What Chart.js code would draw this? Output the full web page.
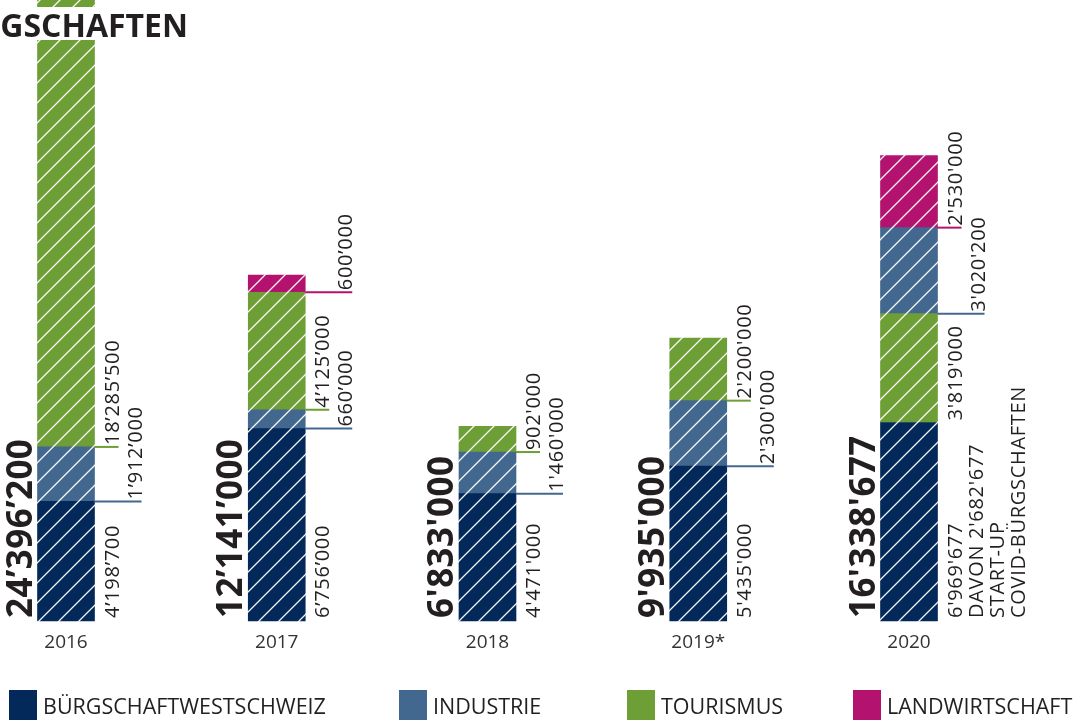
<!DOCTYPE html>
<html>
<head>
<meta charset="utf-8">
<script src="https://cdn.jsdelivr.net/npm/chart.js@4.4.1/dist/chart.umd.min.js"></script>
<style>
  html, body { margin: 0; padding: 0; background: #ffffff; }
  #wrap { width: 1073px; height: 720px; position: relative; }
  canvas { display: block; }
</style>
</head>
<body>
<div id="wrap"><canvas id="c" width="1073" height="720"></canvas></div>
<script>
// Bürgschaftsvolumen pro Jahr (CHF)
const years = ['2016', '2017', '2018', '2019*', '2020'];
const totals = [24396200, 12141000, 6833000, 9935000, 16338677];
const buergschaftWestschweiz = [4198700, 6756000, 4471000, 5435000, 6969677];
const industrie = [1912000, 660000, 1460000, 2300000, 3020200];
const tourismus = [18285500, 4125000, 902000, 2200000, 3819000];
const landwirtschaft = [null, 600000, null, null, 2530000];
const startUpCovid2020 = 2682677;
const seriesNames = ['BÜRGSCHAFTWESTSCHWEIZ', 'INDUSTRIE', 'TOURISMUS', 'LANDWIRTSCHAFT'];

// In 2020 the tourism block sits directly on top of the base block
const tourismusUnten = [false, false, false, false, true];

const COLORS = {
  navy: '#03295a',
  blue: '#43688f',
  green: '#6e9e36',
  magenta: '#b3136f'
};
const TEXT = '#231f20';
const FONT = '"Open Sans", "Liberation Sans", sans-serif';

const canvas = document.getElementById('c');
const ctx0 = canvas.getContext('2d');

// diagonal white hatching on a solid fill
function hatch(color) {
  const p = 20;
  const c = document.createElement('canvas');
  c.width = p; c.height = p;
  const g = c.getContext('2d');
  g.fillStyle = color;
  g.fillRect(0, 0, p, p);
  g.strokeStyle = 'rgba(255,255,255,0.95)';
  g.lineWidth = 1.3;
  g.beginPath();
  g.moveTo(-2, p + 2); g.lineTo(p + 2, -2);
  g.moveTo(-2, 2); g.lineTo(2, -2);
  g.moveTo(p - 2, p + 2); g.lineTo(p + 2, p - 2);
  g.stroke();
  return ctx0.createPattern(c, 'repeat');
}

const tourismusLow = tourismus.map((v, i) => (tourismusUnten[i] ? v : null));
const tourismusHigh = tourismus.map((v, i) => (tourismusUnten[i] ? null : v));

function ds(label, data, color) {
  return {
    label, data,
    backgroundColor: hatch(color),
    solidColor: color,
    borderWidth: 0,
    barThickness: 57,
    clip: false,
    stack: 'total'
  };
}

const datasets = [
  ds(seriesNames[0], buergschaftWestschweiz, COLORS.navy),
  ds(seriesNames[2], tourismusLow, COLORS.green),
  ds(seriesNames[1], industrie, COLORS.blue),
  ds(seriesNames[2], tourismusHigh, COLORS.green),
  ds(seriesNames[3], landwirtschaft, COLORS.magenta)
];

// label placement: column beside the bar for each segment (bottom to top)
const labelLayout = {
  columns: [[1, 2, 1], [1, 2, 1, 2], [1, 2, 1], [1, 2, 1], [1, 1, 2, 1]],
  leaders: [[false, true, true], [false, true, true, true], [false, true, true], [false, true, true], [false, false, true, true]]
};

const curly = ['2016', '2017'];
function fmt(v, year) {
  const sep = curly.includes(year) ? '\u2019' : "'";
  return String(v).replace(/\B(?=(\d{3})+(?!\d))/g, sep);
}

function drawRot(ctx, text, baseX, bottomY, font, color, spacing) {
  ctx.save();
  ctx.translate(baseX, bottomY);
  ctx.rotate(-Math.PI / 2);
  ctx.font = font;
  ctx.letterSpacing = spacing || '0px';
  ctx.fillStyle = color;
  ctx.textAlign = 'left';
  ctx.textBaseline = 'alphabetic';
  ctx.fillText(text, 0, 0);
  ctx.restore();
}

const valueLabels = {
  id: 'valueLabels',
  afterDatasetsDraw(chart) {
    const ctx = chart.ctx;
    years.forEach((year, i) => {
      const segs = [];
      chart.data.datasets.forEach((d, di) => {
        const v = d.data[i];
        if (v == null) return;
        segs.push({ v, el: chart.getDatasetMeta(di).data[i], color: d.solidColor });
      });
      segs.sort((a, b) => b.el.base - a.el.base);
      const first = segs[0].el;
      const half = first.width / 2;
      const left = first.x - half;
      const right = first.x + half;

      drawRot(ctx, fmt(totals[i], year), left - 6, first.base - 3, 'bold 35px ' + FONT, TEXT, '0.4px');

      segs.forEach((s, j) => {
        const col = labelLayout.columns[i][j];
        const bx = right + (col === 1 ? 24 : 47);
        const y0 = s.el.base;
        if (labelLayout.leaders[i][j]) {
          ctx.save();
          ctx.strokeStyle = s.color;
          ctx.lineWidth = 2;
          ctx.beginPath();
          ctx.moveTo(right, y0);
          ctx.lineTo(bx, y0);
          ctx.stroke();
          ctx.restore();
        }
        const lines = [fmt(s.v, year)];
        if (year === '2020' && j === 0) {
          lines.push('DAVON ' + fmt(startUpCovid2020, year), 'START-UP', 'COVID-BÜRGSCHAFTEN');
        }
        lines.forEach((t, k) => {
          drawRot(ctx, t, bx + k * 21, y0 - (j === 0 ? 3 : 2), '20px ' + FONT, TEXT, '0.7px');
        });
      });
    });
  }
};

const headingAndLegend = {
  id: 'headingAndLegend',
  afterDraw(chart) {
    const ctx = chart.ctx;
    ctx.save();
    // heading strip
    ctx.fillStyle = '#ffffff';
    ctx.fillRect(0, 7, 200, 33);
    ctx.fillStyle = TEXT;
    ctx.font = 'bold 32px ' + FONT;
    ctx.textAlign = 'right';
    ctx.textBaseline = 'alphabetic';
    ctx.fillText('BÜRGSCHAFTEN', 188, 37);

    // legend
    const items = [
      { name: seriesNames[0], color: COLORS.navy, x: 9 },
      { name: seriesNames[1], color: COLORS.blue, x: 399 },
      { name: seriesNames[2], color: COLORS.green, x: 627 },
      { name: seriesNames[3], color: COLORS.magenta, x: 853 }
    ];
    ctx.textAlign = 'left';
    ctx.font = '21.5px ' + FONT;
    items.forEach(it => {
      ctx.fillStyle = it.color;
      ctx.fillRect(it.x, 690, 28, 30);
      ctx.fillStyle = TEXT;
      ctx.fillText(it.name, it.x + 34, 714);
    });
    ctx.restore();
  }
};

new Chart(canvas, {
  type: 'bar',
  data: { labels: years, datasets },
  options: {
    responsive: false,
    animation: false,
    devicePixelRatio: 1,
    layout: { padding: { left: 66, right: 164, top: 0, bottom: 0 } },
    plugins: { legend: { display: false }, tooltip: { enabled: false } },
    scales: {
      x: {
        stacked: true,
        offset: false,
        grid: { display: false, drawTicks: false },
        border: { display: false },
        ticks: { color: '#333333', font: { family: FONT, size: 19 }, padding: 10, maxRotation: 0, autoSkip: false },
        afterFit(scale) { scale.height = 99; }
      },
      y: {
        stacked: true,
        display: false,
        min: 0,
        max: 21800000
      }
    }
  },
  plugins: [valueLabels, headingAndLegend]
});
</script>
</body>
</html>
